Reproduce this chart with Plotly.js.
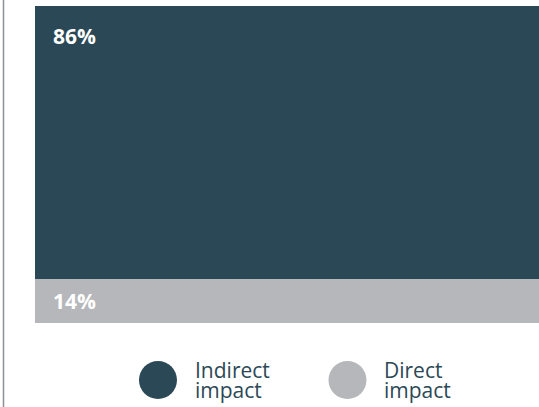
<!DOCTYPE html>
<html>
<head>
<meta charset="utf-8">
<script src="https://cdn.plot.ly/plotly-3.0.1.min.js"></script>
<style>html,body{margin:0;padding:0;background:#fff;}#chart{width:539px;height:407px;}</style>
</head>
<body>
<div id="chart"></div>
<script>
const category = ['Impact'];
const seriesNames = ['Direct impact', 'Indirect impact'];
const directValues = [14];
const indirectValues = [86];
const legendLines = [['Indirect', 'impact'], ['Direct', 'impact']];

const darkColor = '#2b4856';
const greyColor = '#b6b7bb';
const fontFam = '"Open Sans", Lato, sans-serif';

const traces = [
  {type: 'bar', x: category, y: directValues, name: seriesNames[0], marker: {color: greyColor, line: {width: 0}}, width: 1, hoverinfo: 'none'},
  {type: 'bar', x: category, y: indirectValues, name: seriesNames[1], marker: {color: darkColor, line: {width: 0}}, width: 1, hoverinfo: 'none'}
];

const total = directValues[0] + indirectValues[0];
const annotations = [
  {xref: 'x', yref: 'y', x: -0.5, y: total, xanchor: 'left', yanchor: 'top', xshift: 16, yshift: -14,
   text: '<b>' + indirectValues[0] + '%</b>', showarrow: false, font: {family: fontFam, size: 21, color: '#ffffff'}},
  {xref: 'x', yref: 'y', x: -0.5, y: directValues[0] / 2, xanchor: 'left', yanchor: 'middle', xshift: 16, yshift: 0,
   text: '<b>' + directValues[0] + '%</b>', showarrow: false, font: {family: fontFam, size: 21, color: '#ffffff'}}
];

// legend (custom, large circles)
const legendX = [0.244, 0.62];
const legendTextX = [0.3214, 0.6964];
const legendColors = [darkColor, greyColor];
const shapes = [
  {type: 'line', xref: 'paper', yref: 'paper', x0: -0.0625, x1: -0.0625, y0: -0.3, y1: 1.05,
   line: {color: '#8a9097', width: 1.5}}
];
for (let i = 0; i < 2; i++) {
  shapes.push({type: 'circle', xref: 'paper', yref: 'paper', xsizemode: 'pixel', ysizemode: 'pixel',
    xanchor: legendX[i], yanchor: -0.18, x0: -19, x1: 19, y0: -19, y1: 19,
    fillcolor: legendColors[i], line: {width: 0}});
  legendLines[i].forEach((t, j) => {
    annotations.push({xref: 'paper', yref: 'paper', x: legendTextX[i], y: -0.18, xanchor: 'left', yanchor: 'middle',
      yshift: j === 0 ? 10 : -10, xshift: -4, text: t, showarrow: false,
      font: {family: fontFam, size: 21, color: darkColor}});
  });
}

const layout = {
  width: 539, height: 407,
  margin: {l: 35, r: 0, t: 6, b: 84, pad: 0},
  barmode: 'stack',
  showlegend: false,
  paper_bgcolor: '#ffffff', plot_bgcolor: '#ffffff',
  xaxis: {range: [-0.5, 0.5], visible: false, fixedrange: true},
  yaxis: {range: [0, total], visible: false, fixedrange: true},
  annotations: annotations,
  shapes: shapes
};

Plotly.newPlot('chart', traces, layout, {displayModeBar: false, staticPlot: true});
</script>
</body>
</html>
